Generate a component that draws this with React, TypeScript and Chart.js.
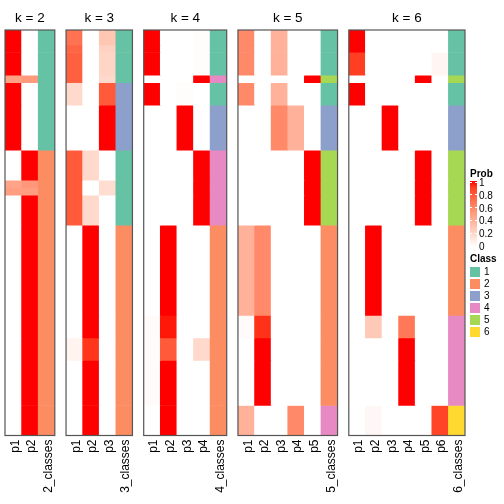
import React, { useEffect, useRef } from "react";
import { Chart, registerables } from "chart.js";

Chart.register(...registerables);

const FONT = "'Liberation Sans', Arial, Helvetica, sans-serif";

// Row blocks of the heatmap (number of samples in each block, top to bottom)
const blockSizes = [2, 1, 3, 1, 3, 6, 4, 1, 1, 4, 12, 3, 3, 6, 4];

// k = 2
const k2P1 = [1, 1, 1, 0.48, 1, 1, 0, 0.47, 0.5, 0, 0, 0, 0, 0, 0];
const k2P2 = [0, 0, 0, 0.52, 0, 0, 1, 0.53, 0.5, 1, 1, 1, 1, 1, 1];
const k2Class = [1, 1, 1, 1, 1, 1, 2, 2, 2, 2, 2, 2, 2, 2, 2];

// k = 3
const k3P1 = [0.7, 0.76, 0.78, 0.78, 0.2, 0, 0.8, 0.8, 0.8, 0.8, 0, 0, 0.06, 0, 0];
const k3P2 = [0, 0, 0, 0, 0, 0, 0.2, 0, 0, 0.2, 1, 1, 0.92, 1, 1];
const k3P3 = [0.3, 0.24, 0.22, 0.2, 0.8, 1, 0, 0.18, 0.18, 0, 0, 0, 0, 0, 0];
const k3Class = [1, 1, 1, 1, 3, 3, 1, 1, 1, 1, 2, 2, 2, 2, 2];

// k = 4
const k4P1 = [1, 1, 1, 0, 1, 0, 0, 0, 0, 0, 0, 0.02, 0.02, 0.02, 0];
const k4P2 = [0, 0, 0, 0, 0, 0, 0, 0, 0, 0, 1, 0.98, 0.8, 1, 1];
const k4P3 = [0, 0, 0, 0, 0.01, 1, 0, 0, 0, 0, 0, 0, 0, 0, 0];
const k4P4 = [0.01, 0.01, 0.01, 1, 0, 0, 1, 1, 1, 1, 0, 0, 0.2, 0, 0];
const k4Class = [1, 1, 1, 4, 1, 3, 4, 4, 4, 4, 2, 2, 2, 2, 2];

// k = 5
const k5P1 = [0.6, 0.6, 0.6, 0, 0.6, 0, 0, 0, 0, 0, 0.4, 0.02, 0, 0, 0.4];
const k5P2 = [0, 0, 0, 0, 0, 0, 0, 0, 0, 0, 0.6, 0.93, 1, 1, 0];
const k5P3 = [0.4, 0.4, 0.4, 0, 0.4, 0.6, 0, 0, 0, 0, 0, 0, 0, 0, 0];
const k5P4 = [0, 0, 0, 0, 0, 0.4, 0, 0, 0, 0, 0, 0, 0, 0, 0.6];
const k5P5 = [0, 0, 0, 1, 0, 0, 1, 1, 1, 1, 0, 0, 0, 0, 0];
const k5Class = [1, 1, 1, 5, 1, 3, 5, 5, 5, 5, 2, 2, 2, 2, 4];

// k = 6
const k6P1 = [1, 1, 0.9, 0, 1, 0, 0, 0, 0, 0, 0, 0, 0, 0, 0];
const k6P2 = [0, 0, 0, 0, 0, 0, 0, 0, 0, 0, 1, 0.28, 0, 0, 0.04];
const k6P3 = [0, 0, 0, 0, 0, 1, 0, 0, 0, 0, 0, 0, 0, 0, 0];
const k6P4 = [0, 0, 0, 0, 0, 0, 0, 0, 0, 0, 0, 0.68, 1, 1, 0];
const k6P5 = [0, 0, 0, 1, 0, 0, 1, 1, 1, 1, 0, 0, 0, 0, 0];
const k6P6 = [0, 0, 0.05, 0, 0, 0, 0, 0, 0, 0, 0, 0, 0, 0, 0.88];
const k6Class = [1, 1, 1, 5, 1, 3, 5, 5, 5, 5, 2, 4, 4, 4, 6];

const panels = [
  { k: 2, probs: [k2P1, k2P2], classes: k2Class },
  { k: 3, probs: [k3P1, k3P2, k3P3], classes: k3Class },
  { k: 4, probs: [k4P1, k4P2, k4P3, k4P4], classes: k4Class },
  { k: 5, probs: [k5P1, k5P2, k5P3, k5P4, k5P5], classes: k5Class },
  { k: 6, probs: [k6P1, k6P2, k6P3, k6P4, k6P5, k6P6], classes: k6Class },
];

const classColors = ["#66C2A5", "#FC8D62", "#8DA0CB", "#E78AC3", "#A6D854", "#FFD92F"];
const classLabels = ["1", "2", "3", "4", "5", "6"];
const probTicks = [1, 0.8, 0.6, 0.4, 0.2, 0];
const probTickLabels = ["1", "0.8", "0.6", "0.4", "0.2", "0"];

// ---- white -> red colour ramp in CIE Lab ----
const Xn = 0.95047, Yn = 1, Zn = 1.08883;
function lin(c: number) { c /= 255; return c <= 0.04045 ? c / 12.92 : Math.pow((c + 0.055) / 1.055, 2.4); }
function gam(c: number) {
  const v = c <= 0.0031308 ? 12.92 * c : 1.055 * Math.pow(Math.max(c, 0), 1 / 2.4) - 0.055;
  return Math.round(Math.max(0, Math.min(1, v)) * 255);
}
function toLab(r: number, g: number, b: number) {
  const R = lin(r), G = lin(g), B = lin(b);
  const X = 0.4124 * R + 0.3576 * G + 0.1805 * B;
  const Y = 0.2126 * R + 0.7152 * G + 0.0722 * B;
  const Z = 0.0193 * R + 0.1192 * G + 0.9505 * B;
  const f = (t: number) => (t > 0.008856 ? Math.cbrt(t) : 7.787 * t + 16 / 116);
  const fx = f(X / Xn), fy = f(Y / Yn), fz = f(Z / Zn);
  return [116 * fy - 16, 500 * (fx - fy), 200 * (fy - fz)];
}
function fromLab(L: number, a: number, b: number) {
  const fy = (L + 16) / 116, fx = fy + a / 500, fz = fy - b / 200;
  const finv = (t: number) => (t * t * t > 0.008856 ? t * t * t : (t - 16 / 116) / 7.787);
  const X = Xn * finv(fx), Y = Yn * finv(fy), Z = Zn * finv(fz);
  const R = 3.2406 * X - 1.5372 * Y - 0.4986 * Z;
  const G = -0.9689 * X + 1.8758 * Y + 0.0415 * Z;
  const B = 0.0557 * X - 0.204 * Y + 1.057 * Z;
  return `rgb(${gam(R)},${gam(G)},${gam(B)})`;
}
const LAB0 = toLab(255, 255, 255);
const LAB1 = toLab(255, 0, 0);
function probColor(t: number) {
  if (t <= 0) return "#FFFFFF";
  return fromLab(
    LAB0[0] + (LAB1[0] - LAB0[0]) * t,
    LAB0[1] + (LAB1[1] - LAB0[1]) * t,
    LAB0[2] + (LAB1[2] - LAB0[2]) * t
  );
}

// ---- geometry ----
const COL_W = 16.6;
const GAP = 11.25;
const X0 = 5;
const CANVAS_H = 496;
const AXIS_H = 60.5;
const SIDE = 20;

const framePlugin = {
  id: "panelFrame",
  afterDraw(chart: any) {
    const { ctx, chartArea: a } = chart;
    ctx.save();
    ctx.strokeStyle = "#555555";
    ctx.lineWidth = 1.2;
    ctx.strokeRect(a.left, a.top, a.right - a.left, a.bottom - a.top);
    ctx.restore();
  },
};

const geoms = (() => {
  let x = X0;
  return panels.map((p) => {
    const w = (p.k + 1) * COL_W;
    const left = x;
    const right = x + w;
    x = right + GAP;
    const cLeft = Math.floor(left) - SIDE;
    const cRight = Math.ceil(right) + SIDE;
    return { cLeft, cWidth: cRight - cLeft, padL: left - cLeft, padR: cRight - right };
  });
})();

export default function App() {
  const refs = useRef<(HTMLCanvasElement | null)[]>([]);

  useEffect(() => {
    const starts: number[] = [];
    let acc = 0;
    blockSizes.forEach((s) => { starts.push(acc); acc += s; });
    const total = acc;

    const charts = panels.map((p, i) => {
      const canvas = refs.current[i]!;
      const labels = [...p.probs.map((_, c) => `p${c + 1}`), `${p.k}_classes`];
      const datasets = blockSizes.map((size, j) => ({
        data: labels.map(() => [starts[j], starts[j] + size]),
        backgroundColor: labels.map((_, c) =>
          c < p.probs.length ? probColor(p.probs[c][j]) : classColors[p.classes[j] - 1]
        ),
        borderWidth: 0,
        grouped: false,
        categoryPercentage: 1,
        barPercentage: 1,
      }));
      const g = geoms[i];
      return new Chart(canvas, {
        type: "bar",
        data: { labels, datasets },
        plugins: [framePlugin],
        options: {
          responsive: false,
          animation: false,
          events: [],
          layout: { padding: { left: g.padL, right: g.padR, top: 0, bottom: 0 } },
          plugins: {
            legend: { display: false },
            tooltip: { enabled: false },
            title: {
              display: true,
              text: `k = ${p.k}`,
              color: "#000000",
              font: { family: FONT, size: 13.5, weight: "normal", lineHeight: 1 },
              padding: { top: 11.5, bottom: 5 },
            },
          },
          scales: {
            x: {
              type: "category",
              offset: true,
              grid: { display: false, drawTicks: false },
              border: { display: false },
              ticks: {
                color: "#000000",
                font: { family: FONT, size: 12 },
                minRotation: 90,
                maxRotation: 90,
                padding: 4,
                labelOffset: 2,
                autoSkip: false,
              },
              afterFit: (s: any) => { s.height = AXIS_H; },
            },
            y: { type: "linear", display: false, reverse: true, min: 0, max: total },
          },
        } as any,
      });
    });
    return () => charts.forEach((c) => c.destroy());
  }, []);

  const barTop = 181;
  const barH = 66;
  const tickY = (v: number) => 182 + (1 - v) * 64;
  const gradient = `linear-gradient(to bottom, ${Array.from({ length: 11 }, (_, i) =>
    `${probColor(1 - i / 10)} ${i * 10}%`).join(", ")})`;

  const txt: React.CSSProperties = {
    position: "absolute",
    fontFamily: FONT,
    fontSize: 10,
    lineHeight: "12px",
    color: "#000",
    whiteSpace: "nowrap",
  };

  return (
    <div style={{ position: "fixed", left: 0, top: 0, width: 504, height: 504, background: "#fff", overflow: "hidden" }}>
      {panels.map((p, i) => (
        <canvas
          key={p.k}
          ref={(el) => { refs.current[i] = el; }}
          width={geoms[i].cWidth}
          height={CANVAS_H}
          style={{ position: "absolute", left: geoms[i].cLeft, top: 0, width: geoms[i].cWidth, height: CANVAS_H }}
        />
      ))}
      <div style={{ ...txt, left: 470, top: 168, fontWeight: "bold" }}>Prob</div>
      <div style={{ position: "absolute", left: 470, top: barTop, width: 7, height: barH, background: gradient }} />
      {probTicks.map((v, i) => (
        <React.Fragment key={v}>
          <div style={{ position: "absolute", left: 470, top: tickY(v) - 0.5, width: 2, height: 1, background: "#fff" }} />
          <div style={{ position: "absolute", left: 475, top: tickY(v) - 0.5, width: 2, height: 1, background: "#fff" }} />
          <div style={{ ...txt, left: 479, top: tickY(v) - 5 }}>{probTickLabels[i]}</div>
        </React.Fragment>
      ))}
      <div style={{ ...txt, left: 470, top: 253, fontWeight: "bold" }}>Class</div>
      {classLabels.map((lab, i) => (
        <React.Fragment key={lab}>
          <div style={{ position: "absolute", left: 470, top: 267 + 12 * i, width: 10, height: 10, background: classColors[i] }} />
          <div style={{ ...txt, left: 484, top: 266 + 12 * i }}>{lab}</div>
        </React.Fragment>
      ))}
    </div>
  );
}
